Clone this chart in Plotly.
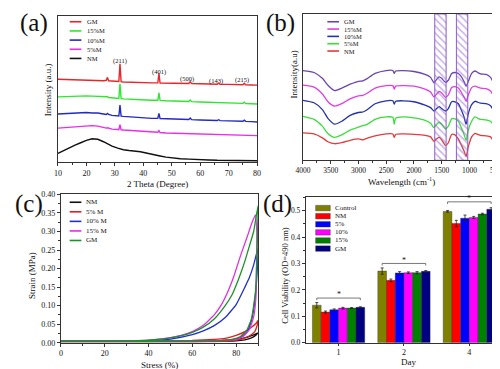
import plotly.graph_objects as go

W, H = 500, 369
FONT = "Liberation Serif"


def px(x):
    return x / W


def py(y):
    return 1 - y / H


# ---------------- (a) XRD ----------------
two_theta = [10, 12, 14, 16, 18, 20, 22, 24, 26, 27.0, 27.4, 27.8, 29, 31.0, 31.4, 31.8, 32.2, 33, 35, 37, 39, 41, 43,
             45.1, 45.5, 45.9, 48, 50, 53, 56.0, 56.5, 57.0, 60, 63, 66.0, 66.5, 67.0, 70, 73, 75.0, 75.5, 76.0, 78, 80]
xrd_nm = [9, 12, 15, 17.5, 20, 22.5, 24, 23.5, 21, 19.5, 19, 18.3, 16.5, 14.5, 14, 13.7, 13.4, 12.8, 12, 11.5, 10.8, 9.5, 8,
          6.8, 6.6, 6.4, 5.2, 4.3, 3.6, 3.2, 3.1, 3.0, 2.7, 2.3, 2, 2, 1.9, 1.7, 1.6, 1.6, 1.6, 1.6, 1.6, 1.6]
xrd_5 = [35, 35.5, 36, 36.5, 37, 37.5, 37.5, 37, 35.5, 35, 35.3, 34.8, 34, 33.5, 33.4, 38.5, 33.3, 33, 32.5, 32, 31.5, 31, 30.8,
         30.7, 32.5, 30.5, 30, 29.8, 29.5, 29.2, 29.6, 29.1, 28.8, 28.5, 28.2, 28.3, 28.1, 28, 27.8, 27.7, 27.8, 27.6, 27.5, 27.3]
xrd_10 = [49.5, 49.8, 50, 50, 50.5, 51, 50.5, 50.5, 49.5, 49, 50, 49, 48, 47.5, 47.4, 58.5, 47.3, 47, 46.5, 46, 45.7, 45.3, 45,
          45, 50, 44.8, 44.5, 44.2, 44, 43.8, 45.3, 43.7, 43.3, 43, 42.8, 43.6, 42.7, 42.4, 42.2, 42, 43.2, 41.9, 41.6, 41.3]
xrd_15 = [67, 67.3, 67.5, 67.5, 67.8, 68, 67.8, 67.5, 67, 66.5, 67.2, 66.3, 66, 65.5, 65.4, 80.5, 65.3, 65, 64.5, 64.2, 64, 63.8, 63.5,
          63.5, 71, 63.4, 63, 62.8, 62.5, 62.2, 63.8, 62.1, 61.8, 61.5, 61.2, 61.9, 61.1, 60.8, 60.5, 60.3, 61.5, 60.2, 60, 59.7]
xrd_gm = [85, 84.8, 84.5, 84.3, 84, 84, 84, 83.8, 83.5, 84, 87, 83.5, 83, 82.8, 82.7, 101, 82.6, 82.3, 82, 81.8, 81.6, 81.5, 81.3,
          81.3, 91, 81.2, 81.2, 81, 80.8, 80.7, 82.5, 80.6, 80.4, 80.2, 80, 81, 80, 79.8, 79.6, 79.5, 81, 79.4, 79.2, 79]
xrd_names = ["GM", "15%M", "10%M", "5%M", "NM"]
xrd_colors = ["#e8262a", "#2ee82e", "#2329c8", "#e82ee8", "#111111"]
peak_labels = ["(211)", "(401)", "(500)", "(143)", "(215)"]
peak_x = [31.8, 45.5, 55.5, 65.5, 74.6]
peak_y = [104, 93, 85, 83.7, 84]

# ---------------- (b) FTIR ----------------
wavenumber = [4000, 3800, 3650, 3550, 3430, 3300, 3150, 3000, 2920, 2850, 2700, 2500, 2380, 2355, 2330, 2200, 2000, 1800,
              1700, 1640, 1590, 1545, 1500, 1430, 1380, 1320, 1260, 1200, 1150, 1100, 1060, 1020, 960, 900, 850, 800, 700,
              620, 570, 520, 460, 430]
ir_gm = [92, 90, 84, 77, 71.5, 74, 78, 81, 81.5, 83.5, 89, 92, 92, 89, 91.5, 92, 91, 88, 85, 79.5, 83, 85.5, 84, 80, 82, 89,
         90, 89, 86, 81, 76, 81, 89, 91.5, 90, 88.5, 88, 85, 80.5, 86, 91, 92]
ir_15 = [77, 75, 68, 60, 55.5, 58, 63, 66, 66.5, 68.5, 74, 76.5, 76.5, 73, 76, 76.5, 76, 73, 70, 65, 68, 70.5, 69, 64.5, 67,
         74.5, 75.5, 74, 70, 65, 60.5, 67, 74.5, 76, 75, 74, 73.5, 71, 67, 72, 75, 76]
ir_10 = [61.5, 59, 52, 43, 37, 40, 46, 49, 49.5, 51.5, 58, 61, 61, 57.5, 60.5, 61, 60, 56.5, 54, 50.5, 53, 55, 53, 50.5, 53,
         60, 60, 58, 52, 45, 37, 48, 57, 60.5, 59.5, 58.5, 58, 56, 52, 57, 60, 61]
ir_5 = [45, 42, 35, 27.5, 23.5, 26, 31, 34, 35.5, 36.5, 42, 44.5, 44, 37, 43, 44.5, 43.5, 41, 38, 33.5, 37, 39, 37, 32, 35,
        42.5, 42.5, 40, 34, 27, 20.5, 31, 40, 44.5, 43, 42, 41.5, 40, 37, 41, 44, 44.5]
ir_nm = [28, 27, 23, 19, 17, 18, 20.5, 22, 21, 22.5, 25, 27, 27, 23.5, 26.5, 27, 26.5, 25.5, 24, 19.5, 22, 23.5, 21, 15, 18,
         26.5, 26, 22, 16, 10, 4, 14, 24, 27.5, 26.5, 25.5, 25, 24, 20.5, 25, 27, 27.5]
ir_names = ["GM", "15%M", "10%M", "5%M", "NM"]
ir_colors = ["#6a45b0", "#e040e0", "#2433a8", "#3cdc3c", "#e03c3c"]
band_ranges = [(1625, 1420), (1235, 1030)]
ir_ticks = [4000, 3500, 3000, 2500, 2000, 1500, 1000]
ir_last_tick = 500

# ---------------- (c) compression loops ----------------
c_names = ["NM", "5% M", "10% M", "15% M", "GM"]
c_colors = ["#111111", "#e02020", "#2030c8", "#e030e0", "#1f8f2a"]
stress_nm = [0, 20, 40, 60, 70, 75, 80, 84, 87, 89, 90, 89, 87, 84, 80, 75, 60, 40, 20, 0]
strain_nm = [0.004, 0.004, 0.004, 0.004, 0.005, 0.006, 0.009, 0.013, 0.019, 0.024, 0.027, 0.02, 0.013, 0.008, 0.005,
             0.004, 0.003, 0.003, 0.003, 0.003]
stress_5 = [0, 20, 40, 60, 70, 75, 80, 84, 87, 89, 90, 89.5, 88.5, 86, 82, 78, 70, 40, 0]
strain_5 = [0.004, 0.004, 0.004, 0.006, 0.009, 0.012, 0.02, 0.03, 0.042, 0.052, 0.06, 0.045, 0.03, 0.018, 0.009, 0.005,
            0.003, 0.003, 0.003]
stress_10 = [0, 20, 40, 50, 60, 65, 70, 75, 80, 84, 86, 88, 90, 89.7, 89, 88, 87, 85, 82, 78, 70, 50, 0]
strain_10 = [0.004, 0.004, 0.005, 0.01, 0.022, 0.032, 0.046, 0.068, 0.103, 0.15, 0.175, 0.21, 0.255, 0.2, 0.14, 0.09,
             0.06, 0.03, 0.014, 0.008, 0.005, 0.004, 0.004]
stress_15 = [0, 20, 40, 50, 55, 60, 65, 70, 73, 76, 79, 82, 85, 87, 88.8, 89.4, 89.3, 89, 88, 86, 83, 80, 70, 50, 0]
strain_15 = [0.004, 0.004, 0.007, 0.014, 0.02, 0.03, 0.047, 0.075, 0.1, 0.135, 0.18, 0.235, 0.285, 0.32, 0.345, 0.3,
             0.2, 0.12, 0.07, 0.035, 0.016, 0.009, 0.005, 0.004, 0.004]
stress_gm = [0, 20, 40, 50, 55, 60, 65, 70, 75, 78, 81, 84, 86, 88, 90, 89.8, 89.4, 89, 88, 87, 85, 82, 78, 70, 50, 0]
strain_gm = [0.004, 0.004, 0.007, 0.013, 0.019, 0.028, 0.042, 0.064, 0.1, 0.128, 0.17, 0.22, 0.26, 0.3, 0.37, 0.3, 0.22,
             0.15, 0.1, 0.065, 0.035, 0.017, 0.009, 0.005, 0.004, 0.004]

# ---------------- (d) cell viability ----------------
days = ["1", "2", "4"]
groups = ["Control", "NM", "5%", "10%", "15%", "GM"]
group_colors = ["#808000", "#ff0000", "#0000ff", "#ff00ff", "#008000", "#000080"]
viability = {
    "Control": [0.142, 0.271, 0.497],
    "NM": [0.116, 0.236, 0.451],
    "5%": [0.125, 0.264, 0.471],
    "10%": [0.131, 0.265, 0.474],
    "15%": [0.131, 0.265, 0.487],
    "GM": [0.134, 0.270, 0.505],
}
viability_err = {
    "Control": [0.010, 0.012, 0.003],
    "NM": [0.004, 0.005, 0.012],
    "5%": [0.003, 0.005, 0.012],
    "10%": [0.003, 0.003, 0.004],
    "15%": [0.002, 0.004, 0.003],
    "GM": [0.002, 0.003, 0.006],
}
sig_level = [0.169, 0.300, 0.533]

fig = go.Figure()

# (a) traces
for vals, col in zip([xrd_gm, xrd_15, xrd_10, xrd_5, xrd_nm], xrd_colors):
    fig.add_trace(go.Scatter(x=two_theta, y=vals, mode="lines", line=dict(color=col, width=1.4),
                             xaxis="x", yaxis="y", showlegend=False, hoverinfo="skip"))

# (b) traces
for vals, col in zip([ir_gm, ir_15, ir_10, ir_5, ir_nm], ir_colors):
    fig.add_trace(go.Scatter(x=wavenumber, y=vals, mode="lines",
                             line=dict(color=col, width=1.3, shape="spline", smoothing=0.6),
                             xaxis="x2", yaxis="y2", showlegend=False, hoverinfo="skip"))
for lo, hi in band_ranges:
    fig.add_trace(go.Scatter(x=[lo, hi, hi, lo, lo], y=[0, 0, 150, 150, 0], mode="lines", fill="toself",
                             fillcolor="rgba(255,255,255,0)",
                             fillpattern=dict(shape="\\", fgcolor="#8e62d2", bgcolor="rgba(255,255,255,0)",
                                              size=5, solidity=0.3),
                             line=dict(color="#8a5cc8", width=1), xaxis="x2", yaxis="y2",
                             showlegend=False, hoverinfo="skip"))

# (c) traces
for xs, ys, col in zip([stress_nm, stress_5, stress_10, stress_15, stress_gm],
                       [strain_nm, strain_5, strain_10, strain_15, strain_gm], c_colors):
    fig.add_trace(go.Scatter(x=xs, y=ys, mode="lines",
                             line=dict(color=col, width=1.3, shape="spline", smoothing=0.4),
                             xaxis="x3", yaxis="y3", showlegend=False, hoverinfo="skip"))

# (d) bars
for g, col in zip(groups, group_colors):
    fig.add_trace(go.Bar(x=[0, 1, 2], y=viability[g], name=g, marker=dict(color=col, line=dict(color="#333", width=0.4)),
                         error_y=dict(type="data", array=viability_err[g], color="#222", thickness=0.8, width=1.5),
                         xaxis="x4", yaxis="y4", showlegend=False, hoverinfo="skip"))

axis_common = dict(showline=True, linecolor="#333", linewidth=1, mirror=True, showgrid=False, zeroline=False,
                   ticks="outside", ticklen=3, tickwidth=1, tickcolor="#333",
                   tickfont=dict(family=FONT, size=8, color="#111"))

fig.update_layout(
    width=W, height=H, margin=dict(l=0, r=0, t=0, b=0), paper_bgcolor="white", plot_bgcolor="white",
    font=dict(family=FONT, color="#111"), showlegend=False, barmode="group", bargap=0.2, bargroupgap=0,
    xaxis=dict(axis_common, domain=[px(43), px(247)], anchor="y", range=[10, 80], dtick=10,
               minor=dict(dtick=5, ticks="outside", ticklen=2, tickcolor="#333")),
    yaxis=dict(axis_common, domain=[py(154), py(4)], anchor="x", range=[0, 150], showticklabels=False, ticks=""),
    xaxis2=dict(axis_common, domain=[px(294), px(497)], anchor="y2", range=[4000, 430],
                tickvals=ir_ticks,
                tickfont=dict(family=FONT, size=7.5, color="#111"),
                minor=dict(tickvals=[3750, 3250, 2750, 2250, 1750, 1250, 750], ticks="outside", ticklen=2,
                           tickcolor="#333")),
    yaxis2=dict(axis_common, domain=[py(152), py(2)], anchor="x2", range=[0, 150], showticklabels=False, ticks=""),
    xaxis3=dict(axis_common, domain=[px(46), px(248)], anchor="y3", range=[0, 90], dtick=20,
                minor=dict(dtick=10, ticks="outside", ticklen=2, tickcolor="#333")),
    yaxis3=dict(axis_common, domain=[py(339), py(187)], anchor="x3", range=[0, 0.40], dtick=0.05, tickformat=".2f",
                minor=dict(dtick=0.025, ticks="outside", ticklen=2, tickcolor="#333")),
    xaxis4=dict(axis_common, domain=[px(297), px(498)], anchor="y4", range=[-0.5, 2.5], tickvals=[0, 1, 2],
                ticktext=days, ticklen=2),
    yaxis4=dict(axis_common, domain=[py(339), py(190)], anchor="x4", range=[0, 0.55], dtick=0.1, tickformat=".1f",
                tickfont=dict(family=FONT, size=7.5, color="#111"),
                minor=dict(dtick=0.05, ticks="outside", ticklen=2, tickcolor="#333")),
)

shapes = []
annotations = []


def ann(x, y, text, size=8, xanchor="center", yanchor="middle", angle=0, xref="paper", yref="paper"):
    annotations.append(dict(x=x, y=y, xref=xref, yref=yref, text=text, showarrow=False, xanchor=xanchor,
                            yanchor=yanchor, textangle=angle, font=dict(family=FONT, size=size, color="#111")))


def legend_line(x0, x1, y, color):
    shapes.append(dict(type="line", xref="paper", yref="paper", x0=px(x0), x1=px(x1), y0=py(y), y1=py(y),
                       line=dict(color=color, width=1.6)))


# panel labels
ann(px(18), py(11), "(a)", size=25)
ann(px(271), py(11), "(b)", size=25)
ann(px(13), py(197), "(c)", size=25)
ann(px(268), py(197), "(d)", size=25)

# axis titles
ann(px(145), py(176), "2 Theta (Degree)", size=9)
ann(px(33), py(80), "Intensity (a.u.)", size=9, angle=-90)
ann(px(395), py(173), "Wavelength (cm<sup>-1</sup>)", size=9)
ann(px(285), py(64), "Intensity(a.u)", size=9, angle=-90)
ann(px(147), py(362), "Stress (%)", size=9)
ann(px(17), py(270), "Strain (MPa)", size=9, angle=-90)
ann(px(402), py(359), "Day", size=9)
ann(px(276), py(270), "Cell Viability (OD=490 nm)", size=8.5, angle=-90)

# last FTIR tick (mark + label) kept inside the page
shapes.append(dict(type="line", xref="x2", yref="paper", x0=ir_last_tick, x1=ir_last_tick,
                   y0=py(152), y1=py(155), line=dict(color="#333", width=1)))
annotations.append(dict(x=ir_last_tick, y=py(157), xref="x2", yref="paper", text=str(ir_last_tick),
                        showarrow=False, xanchor="center", xshift=-1, yanchor="top", borderpad=0,
                        font=dict(family=FONT, size=7.5, color="#111")))

# (a) legend and peak labels
for i, (n, c) in enumerate(zip(xrd_names, xrd_colors)):
    y = 10 + i * 9.4
    legend_line(55, 67, y, c)
    ann(px(71), py(y), n, size=6.5, xanchor="left")
for lab, x, y in zip(peak_labels, peak_x, peak_y):
    ann(x, y, lab, size=6.5, xref="x", yref="y")

# (b) legend
for i, (n, c) in enumerate(zip(ir_names, ir_colors)):
    y = 10 + i * 7.5
    legend_line(319, 331, y, c)
    ann(px(334), py(y), n, size=6.5, xanchor="left")

# (c) legend
for i, (n, c) in enumerate(zip(c_names, c_colors)):
    y = 195 + i * 9.8
    legend_line(55, 67, y, c)
    ann(px(70), py(y), n, size=7, xanchor="left")

# (d) legend
for i, (n, c) in enumerate(zip(groups, group_colors)):
    y = 201 + i * 8.3
    shapes.append(dict(type="rect", xref="paper", yref="paper", x0=px(307), x1=px(322), y0=py(y + 2.8),
                       y1=py(y - 2.8), fillcolor=c, line=dict(color="#333", width=0.4)))
    ann(px(325), py(y), n, size=7, xanchor="left")

# (d) significance brackets
for i, lvl in enumerate(sig_level):
    x0, x1 = i - 0.333, i + 0.333
    shapes.append(dict(type="path", xref="x4", yref="y4",
                       path=f"M {x0} {lvl - 0.008} L {x0} {lvl} L {x1} {lvl} L {x1} {lvl - 0.008}",
                       line=dict(color="#555", width=0.8)))
    ann(i, lvl + 0.012, "*", size=8, xref="x4", yref="y4")

fig.update_layout(shapes=shapes, annotations=annotations)
fig.write_html("out.html")
